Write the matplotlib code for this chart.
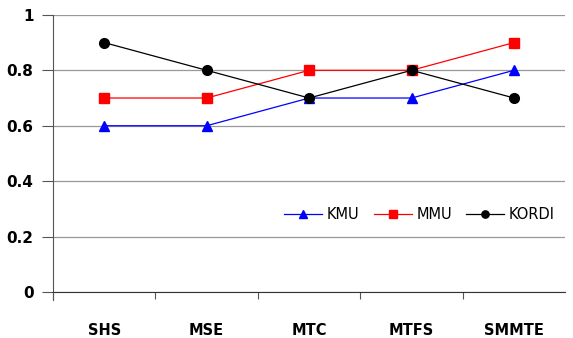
import matplotlib
matplotlib.use("Agg")
import matplotlib.pyplot as plt

categories = ["SHS", "MSE", "MTC", "MTFS", "SMMTE"]
kmu = [0.6, 0.6, 0.7, 0.7, 0.8]
mmu = [0.7, 0.7, 0.8, 0.8, 0.9]
kordi = [0.9, 0.8, 0.7, 0.8, 0.7]
yticks = [0, 0.2, 0.4, 0.6, 0.8, 1.0]
ytick_labels = ["0", "0.2", "0.4", "0.6", "0.8", "1"]

fig = plt.figure(figsize=(5.73, 3.38), dpi=100)
ax = fig.add_axes([0.0925, 0.136, 0.894, 0.82])

x = range(len(categories))
ax.plot(x, kmu, color="#0000ff", marker="^", markersize=7, linewidth=0.9, label="KMU")
ax.plot(x, mmu, color="#ff0000", marker="s", markersize=7, linewidth=0.9, label="MMU")
ax.plot(x, kordi, color="#000000", marker="o", markersize=7, linewidth=0.9, label="KORDI")

ax.set_xlim(-0.5, len(categories) - 0.5)
ax.set_ylim(0, 1)
ax.set_yticks(yticks)
ax.set_yticklabels(ytick_labels, fontweight="bold", fontsize=11)
ax.set_xticks([i - 0.5 for i in range(len(categories))])
ax.set_xticklabels([])
ax.set_xticks(list(x), minor=True)
ax.set_xticklabels(categories, minor=True, fontweight="bold", fontsize=10.5)
ax.tick_params(axis="x", which="minor", length=0, pad=22)
ax.tick_params(axis="x", which="major", direction="out", length=5, color="#555555")
ax.tick_params(axis="y", direction="out", length=8, color="#555555", pad=6)

ax.grid(axis="y", color="#999999", linewidth=0.9)
ax.set_axisbelow(True)
for s in ["top", "right"]:
    ax.spines[s].set_visible(False)
ax.spines["left"].set_color("#555555")
ax.spines["bottom"].set_color("#333333")
ax.spines["left"].set_bounds(-0.03, 1)

ax.legend(loc="center right", bbox_to_anchor=(1.005, 0.28), ncol=3, frameon=False,
          fontsize=10.5, handlelength=2.6, columnspacing=1.0, handletextpad=0.3,
          markerscale=0.75)

fig.savefig("out.png", dpi=100)
